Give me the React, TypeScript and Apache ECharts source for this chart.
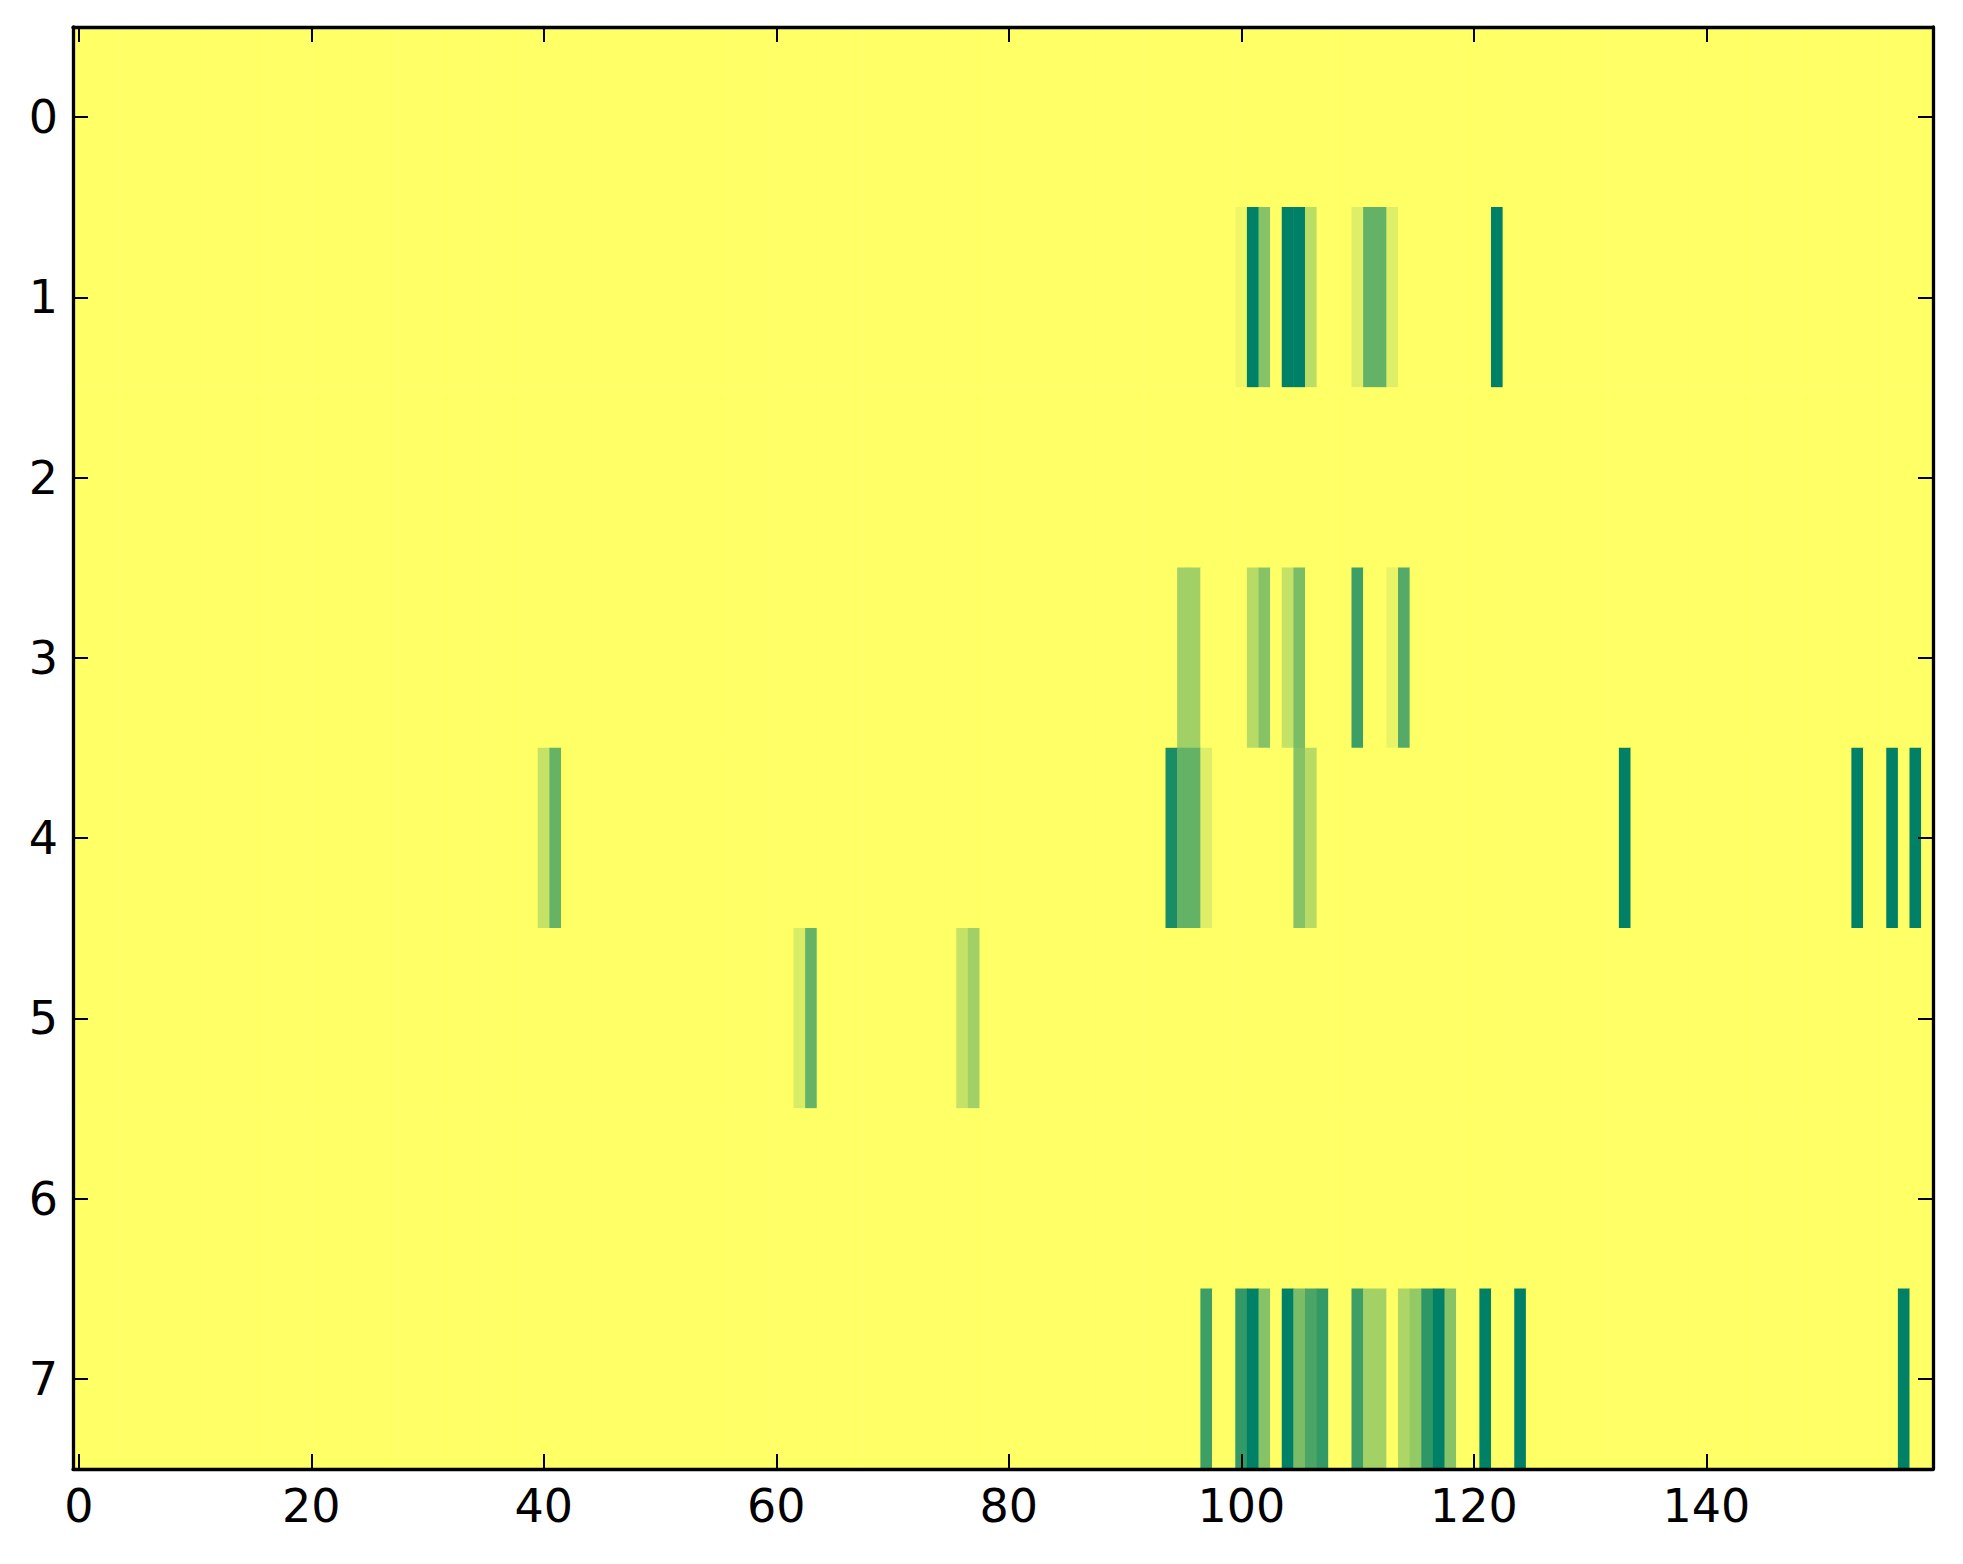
import { useEffect, useRef } from 'react';
import * as echarts from 'echarts';

// grid size: 8 rows x 160 columns, everything not listed is 0
const ROWS = 8;
const COLS = 160;
const xTickLabels = ['0', '20', '40', '60', '80', '100', '120', '140'];

// [column, value] of the non-zero cells, one list per row
const row1Cells: [number, number][] = [
  [100, 0.06], [101, 1.0], [102, 0.47], [104, 1.0], [105, 1.0], [106, 0.27],
  [110, 0.13], [111, 0.61], [112, 0.61], [113, 0.13], [122, 1.0],
];
const row3Cells: [number, number][] = [
  [95, 0.37], [96, 0.37], [101, 0.28], [102, 0.47], [104, 0.23], [105, 0.52],
  [110, 0.76], [113, 0.09], [114, 0.67],
];
const row4Cells: [number, number][] = [
  [40, 0.23], [41, 0.6], [94, 0.9], [95, 0.61], [96, 0.61], [97, 0.13],
  [105, 0.47], [106, 0.28], [133, 1.0], [153, 1.0], [156, 1.0], [158, 1.0],
];
const row5Cells: [number, number][] = [
  [62, 0.15], [63, 0.6], [76, 0.23], [77, 0.37],
];
const row7Cells: [number, number][] = [
  [97, 0.76], [100, 0.8], [101, 1.0], [102, 0.47], [104, 1.0], [105, 0.52],
  [106, 0.71], [107, 0.8], [110, 0.76], [111, 0.36], [112, 0.36], [114, 0.32],
  [115, 0.42], [116, 0.82], [117, 1.0], [118, 0.47], [121, 1.0], [124, 1.0],
  [157, 1.0],
];
const rowCells: Record<number, [number, number][]> = {
  1: row1Cells, 3: row3Cells, 4: row4Cells, 5: row5Cells, 7: row7Cells,
};

const xCats = Array.from({ length: COLS }, (_, i) => String(i));
const yCats = Array.from({ length: ROWS }, (_, i) => String(i));

function buildData() {
  const grid: number[][] = yCats.map(() => xCats.map(() => 0));
  Object.entries(rowCells).forEach(([r, cells]) => {
    cells.forEach(([c, v]) => { grid[Number(r)][c] = v; });
  });
  const out: [number, number, number][] = [];
  grid.forEach((row, r) => row.forEach((v, c) => out.push([c, r, v])));
  return out;
}

const FONT = 'DejaVu Sans';
const spine = { show: true, lineStyle: { color: '#000', width: 3.3 } };
const tick = { show: true, inside: true, length: 15, lineStyle: { color: '#000', width: 2 } };

export default function App() {
  const ref = useRef<HTMLDivElement>(null);

  useEffect(() => {
    if (!ref.current) return;
    const chart = echarts.init(ref.current, undefined, { renderer: 'svg' });
    // axes sit above the heatmap so the spines and inward ticks stay visible
    const xBase = {
      type: 'category' as const, data: xCats, boundaryGap: true, z: 10,
      axisLine: spine, splitLine: { show: false },
      axisTick: { ...tick, interval: 19, alignWithLabel: true },
    };
    const yBase = {
      type: 'category' as const, data: yCats, boundaryGap: true, inverse: true, z: 10,
      axisLine: spine, splitLine: { show: false },
      axisTick: { ...tick, alignWithLabel: true },
    };
    chart.setOption({
      animation: false,
      backgroundColor: '#fff',
      grid: { left: 73, top: 27, width: 1860, height: 1442, containLabel: false },
      xAxis: [
        {
          ...xBase, position: 'bottom',
          axisLabel: {
            interval: 19, margin: 14, color: '#000', fontFamily: FONT, fontSize: 46,
            formatter: (v: string) => (xTickLabels.includes(v) ? v : ''),
          },
        },
        { ...xBase, position: 'top', axisLabel: { show: false } },
      ],
      yAxis: [
        {
          ...yBase, position: 'left',
          axisLabel: { margin: 15, color: '#000', fontFamily: FONT, fontSize: 46 },
        },
        { ...yBase, position: 'right', axisLabel: { show: false } },
      ],
      visualMap: {
        show: false, type: 'continuous', min: 0, max: 1, dimension: 2,
        inRange: { color: ['#ffff66', '#008066'] },
      },
      series: [{
        type: 'heatmap', xAxisIndex: 0, yAxisIndex: 0, data: buildData(), z: 1,
        itemStyle: { borderWidth: 0 }, emphasis: { disabled: true },
      }],
    });
    return () => chart.dispose();
  }, []);

  return <div ref={ref} style={{ position: 'absolute', left: 0, top: 0, width: 1963, height: 1564 }} />;
}
